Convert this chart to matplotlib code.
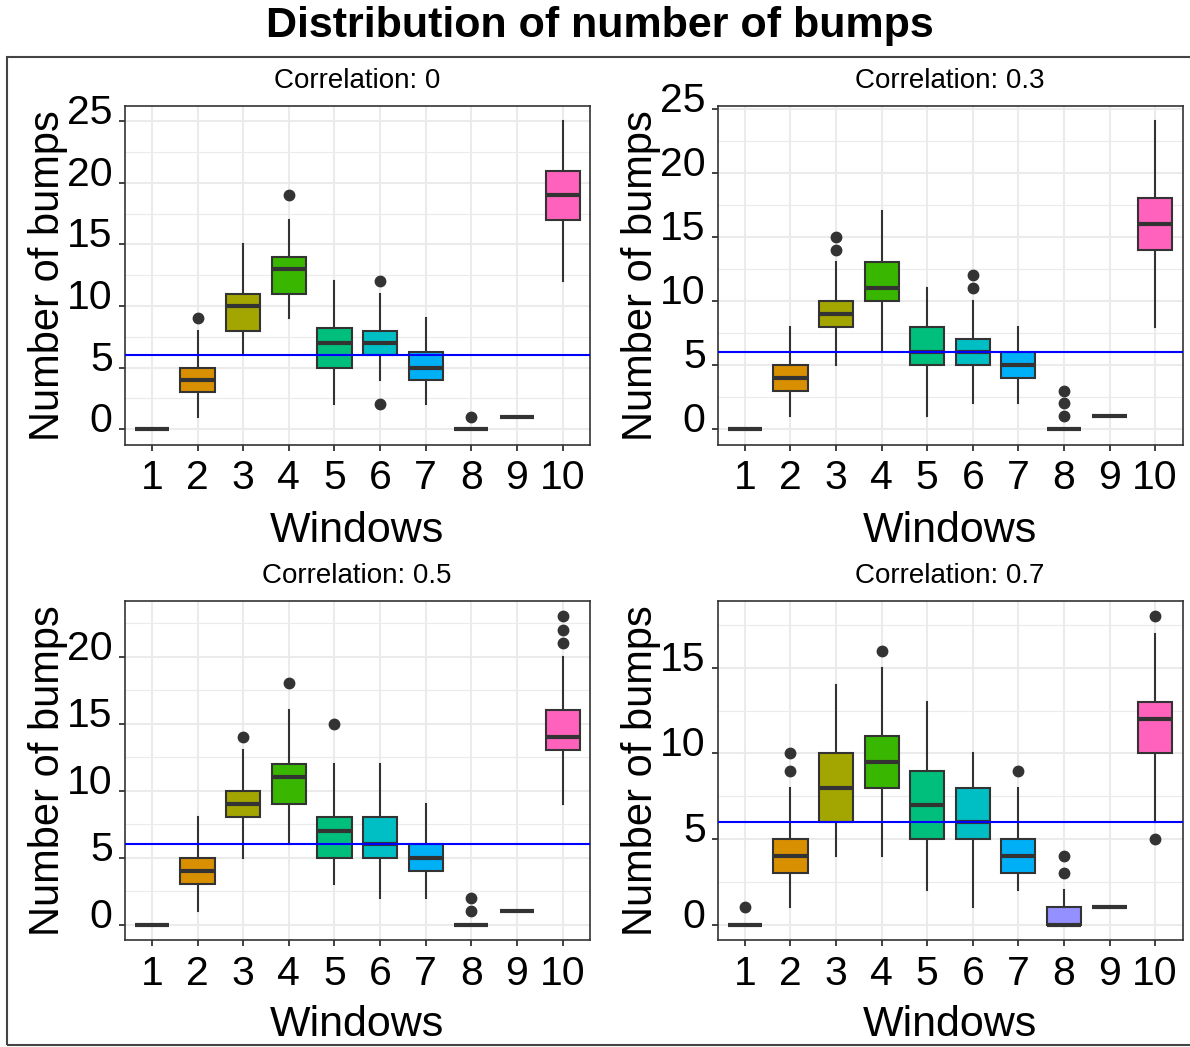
import matplotlib
matplotlib.use("Agg")
import matplotlib.pyplot as plt
from matplotlib.patches import Rectangle
from matplotlib.transforms import ScaledTranslation
import numpy as np

plt.rcParams['font.family'] = ['Liberation Sans', 'DejaVu Sans']

# ---------------- data ----------------
windows = [1, 2, 3, 4, 5, 6, 7, 8, 9, 10]
window_labels = ["1", "2", "3", "4", "5", "6", "7", "8", "9", "10"]
titles = ["Correlation: 0", "Correlation: 0.3", "Correlation: 0.5", "Correlation: 0.7"]
reference_level = 6

c0_lower = [0, 3, 8, 11, 5, 6, 4, 0, 1, 17]
c0_median = [0, 4, 10, 13, 7, 7, 5, 0, 1, 19]
c0_upper = [0, 5, 11, 14, 8.25, 8, 6.25, 0, 1, 21]
c0_whislo = [0, 1, 6, 9, 2, 4, 2, 0, 1, 12]
c0_whishi = [0, 8, 15, 17, 12, 11, 9, 0, 1, 25]
c0_fliers = [[], [9], [], [19], [], [12, 2], [], [1], [], []]

c3_lower = [0, 3, 8, 10, 5, 5, 4, 0, 1, 14]
c3_median = [0, 4, 9, 11, 6, 6, 5, 0, 1, 16]
c3_upper = [0, 5, 10, 13, 8, 7, 6, 0, 1, 18]
c3_whislo = [0, 1, 5, 6, 1, 2, 2, 0, 1, 8]
c3_whishi = [0, 8, 13, 17, 11, 10, 8, 0, 1, 24]
c3_fliers = [[], [], [14, 15], [], [], [11, 12], [], [1, 2, 3], [], []]

c5_lower = [0, 3, 8, 9, 5, 5, 4, 0, 1, 13]
c5_median = [0, 4, 9, 11, 7, 6, 5, 0, 1, 14]
c5_upper = [0, 5, 10, 12, 8, 8, 6, 0, 1, 16]
c5_whislo = [0, 1, 5, 6, 3, 2, 2, 0, 1, 9]
c5_whishi = [0, 8, 13, 16, 12, 12, 9, 0, 1, 20]
c5_fliers = [[], [], [14], [18], [15], [], [], [1, 2], [], [21, 22, 23]]

c7_lower = [0, 3, 6, 8, 5, 5, 3, 0, 1, 10]
c7_median = [0, 4, 8, 9.5, 7, 6, 4, 0, 1, 12]
c7_upper = [0, 5, 10, 11, 9, 8, 5, 1, 1, 13]
c7_whislo = [0, 1, 4, 4, 2, 1, 2, 0, 1, 6]
c7_whishi = [0, 8, 14, 15, 13, 10, 8, 2, 1, 17]
c7_fliers = [[1], [9, 10], [], [16], [], [], [9], [3, 4], [], [5, 18]]

y_ticks_0 = [0, 5, 10, 15, 20, 25]
y_ticks_3 = [0, 5, 10, 15, 20, 25]
y_ticks_5 = [0, 5, 10, 15, 20]
y_ticks_7 = [0, 5, 10, 15]

colors = ["#F8766D", "#D89000", "#A3A500", "#39B600", "#00BF7D",
          "#00BFC4", "#00B0F6", "#9590FF", "#E76BF3", "#FF62BC"]

panels = [
    (c0_lower, c0_median, c0_upper, c0_whislo, c0_whishi, c0_fliers, y_ticks_0),
    (c3_lower, c3_median, c3_upper, c3_whislo, c3_whishi, c3_fliers, y_ticks_3),
    (c5_lower, c5_median, c5_upper, c5_whislo, c5_whishi, c5_fliers, y_ticks_5),
    (c7_lower, c7_median, c7_upper, c7_whislo, c7_whishi, c7_fliers, y_ticks_7),
]

# ---------------- layout ----------------
W, H = 1190, 1047
fig = plt.figure(figsize=(W / 100, H / 100), dpi=100)

# outer frame
fig.patches.append(Rectangle((7 / W, 1 - 1045 / H), 1.2, (1045 - 56.5) / H,
                             transform=fig.transFigure, fill=False,
                             edgecolor="#444444", linewidth=1.5, clip_on=False))

fig.text(600 / W, 1 - 37 / H, "Distribution of number of bumps", ha="center",
         va="baseline", fontsize=31, fontweight="bold")

col_lr = [(124.5, 590), (717.5, 1182.5)]
row_tb = [(106, 444.5), (601, 940)]

for i, (lo, med, up, wlo, whi, fl, yt) in enumerate(panels):
    r, c = divmod(i, 2)
    l, rr = col_lr[c]
    t, b = row_tb[r]
    ax = fig.add_axes([l / W, 1 - b / H, (rr - l) / W, (b - t) / H])

    stats = []
    for k in range(len(windows)):
        stats.append(dict(q1=lo[k], med=med[k], q3=up[k], whislo=wlo[k],
                          whishi=whi[k], fliers=fl[k]))
    res = ax.bxp(stats, positions=windows, widths=0.75, patch_artist=True,
                 showcaps=False,
                 boxprops=dict(edgecolor="#333333", linewidth=1.5),
                 medianprops=dict(color="#333333", linewidth=3.0, solid_capstyle="butt"),
                 whiskerprops=dict(color="#333333", linewidth=1.5),
                 flierprops=dict(marker="o", markerfacecolor="#333333",
                                 markeredgecolor="#333333", markersize=7.5,
                                 linestyle="none"),
                 zorder=3)
    for patch, col in zip(res["boxes"], colors):
        patch.set_facecolor(col)

    ax.axhline(reference_level, color="blue", linewidth=1.5, zorder=5)

    all_vals = lo + up + wlo + whi + [v for f in fl for v in f]
    vmin, vmax = min(all_vals), max(all_vals)
    span = vmax - vmin
    ax.set_ylim(vmin - 0.05 * span, vmax + 0.05 * span)
    ax.set_xlim(0.4, 10.6)

    ax.set_yticks(yt)
    ax.set_yticklabels([str(v) for v in yt])
    minors = [v + 2.5 for v in yt if v + 2.5 < vmax + 0.05 * span]
    ax.set_yticks(minors, minor=True)
    ax.set_xticks(windows)
    ax.set_xticklabels(window_labels)

    ax.grid(True, which="major", color="#EBEBEB", linewidth=1.5, zorder=0)
    ax.grid(True, which="minor", axis="y", color="#EBEBEB", linewidth=0.8, zorder=0)
    ax.set_axisbelow(True)

    ax.tick_params(axis="both", which="major", labelsize=29.5, length=4.5,
                   width=1.3, color="#333333", labelcolor="black")
    ax.tick_params(axis="y", which="major", pad=4)
    ax.tick_params(axis="x", which="major", pad=6)
    ax.tick_params(which="minor", length=0)
    for sp in ax.spines.values():
        sp.set_color("#333333")
        sp.set_linewidth(1.2)

    # y tick labels sit slightly above their ticks in the reference
    shift = ScaledTranslation(0, 12 / 100, fig.dpi_scale_trans)
    for lab in ax.get_yticklabels():
        lab.set_transform(lab.get_transform() + shift)

    cx = (l + rr) / 2
    cy = (t + b) / 2
    strip_base = 88 if r == 0 else 583
    fig.text(cx / W, 1 - strip_base / H, titles[i], ha="center", va="baseline",
             fontsize=20)
    xl_base = 542 if r == 0 else 1036
    fig.text(cx / W, 1 - xl_base / H, "Windows", ha="center", va="baseline",
             fontsize=31)
    fig.text((l - 65.5) / W, 1 - cy / H, "Number of bumps", ha="center",
             va="baseline", rotation=90, rotation_mode="anchor", fontsize=30)

fig.savefig("out.png", dpi=100)
